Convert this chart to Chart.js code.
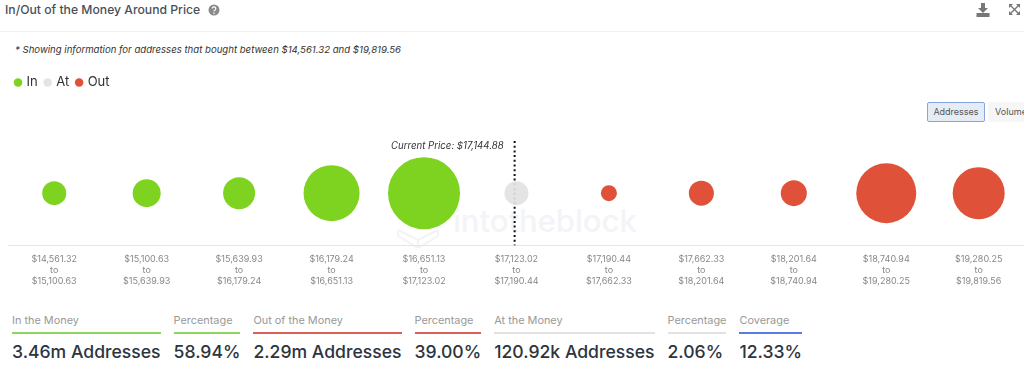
<!DOCTYPE html>
<html>
<head>
<meta charset="utf-8">
<script src="https://cdn.jsdelivr.net/npm/chart.js@4"></script>
<style>
  html, body { margin: 0; padding: 0; background: #fff; }
  body { width: 1024px; height: 365px; overflow: hidden; position: relative; font-family: Inter, sans-serif; }
  #title { position: absolute; left: 5px; top: 1px; font-size: 12.2px; line-height: 18px; font-weight: 500; color: #4a4f57; white-space: nowrap; }
  #divider { position: absolute; left: 0; right: 0; top: 31px; height: 1px; background: #f0f0f0; }
  #note { position: absolute; left: 15px; top: 43px; font-size: 9.6px; line-height: 14px; font-style: italic; color: #333; white-space: nowrap; }
  .icon { position: absolute; }
  .btn { position: absolute; top: 102px; height: 20px; box-sizing: border-box; font-size: 9px; line-height: 17px; color: #555; text-align: center; border-radius: 2px; overflow: hidden; }
  #btnAddr { left: 927px; width: 58px; background: #e6ecf6; border: 1.5px solid #85a4e2; }
  #btnVol { left: 988px; width: 46px; background: #f6f6f6; border: 1.5px solid #f6f6f6; }
  #mark { position: absolute; left: 453px; top: 202px; font-size: 31px; line-height: 38px; font-weight: 500; color: #f2f4f8; white-space: nowrap; }
  #chart { position: absolute; left: 0; top: 0; }
  #stats { position: absolute; left: 12px; top: 313px; display: flex; gap: 12px; }
  .stat { padding-right: 1px; }
  .stat .lab { font-size: 10.9px; line-height: 14px; color: #999; white-space: nowrap; }
  .stat .rule { height: 2px; margin-top: 5px; }
  .stat .val { font-size: 17.6px; line-height: 22px; margin-top: 7px; font-weight: 500; color: #2c3440; white-space: nowrap; }
</style>
</head>
<body>
<div id="title">In/Out of the Money Around Price</div>
<svg class="icon" style="left:208px;top:4px" width="12" height="12" viewBox="0 0 12 12">
  <circle cx="6" cy="6" r="5.5" fill="#8a8a8a"/>
  <path d="M4.2 4.6a1.8 1.8 0 1 1 2.6 1.6c-.6.3-.8.6-.8 1.2" fill="none" stroke="#fff" stroke-width="1.2"/>
  <circle cx="6" cy="9.2" r=".8" fill="#fff"/>
</svg>
<svg class="icon" style="left:976px;top:3px" width="14" height="14" viewBox="0 0 14 14">
  <path d="M5 0h4v5h3L7 10 2 5h3z" fill="#777"/><rect x="0.5" y="10" width="13" height="4" fill="#777"/>
</svg>
<svg class="icon" style="left:1009px;top:4px" width="11" height="11" viewBox="0 0 11 11">
  <path d="M0 0h4L0 4zM11 0v4L7 0zM0 11V7l4 4zM11 11H7l4-4z" fill="#777"/>
  <path d="M1 1l9 9M10 1l-9 9" stroke="#777" stroke-width="1.3"/>
</svg>
<div id="divider"></div>
<div id="note">* Showing information for addresses that bought between $14,561.32 and $19,819.56</div>
<div class="btn" id="btnAddr">Addresses</div>
<div class="btn" id="btnVol">Volume</div>
<div id="mark">intotheblock</div>
<svg class="icon" style="left:397px;top:222px" width="42" height="26" viewBox="0 0 42 26">
  <path d="M1 8L21 18L41 8M21 18V26M1 8V14L21 26L41 14V8" fill="none" stroke="#f1f3f7" stroke-width="2"/>
</svg>
<canvas id="chart" width="1024" height="300"></canvas>
<div id="stats"></div>

<script>
const rangeFrom = ['$14,561.32','$15,100.63','$15,639.93','$16,179.24','$16,651.13','$17,123.02','$17,190.44','$17,662.33','$18,201.64','$18,740.94','$19,280.25'];
const rangeTo = ['$15,100.63','$15,639.93','$16,179.24','$16,651.13','$17,123.02','$17,190.44','$17,662.33','$18,201.64','$18,740.94','$19,280.25','$19,819.56'];

// bubble sizes, one per price range
const inSizes = [12, 14, 16, 28, 36];
const atSizes = [12];
const outSizes = [8, 12.5, 13, 30, 26];

const currentPriceLabel = 'Current Price: $17,144.88';
const currentPriceSlot = 4.98;

const statLabels = ['In the Money','Percentage','Out of the Money','Percentage','At the Money','Percentage','Coverage'];
const statValues = ['3.46m Addresses','58.94%','2.29m Addresses','39.00%','120.92k Addresses','2.06%','12.33%'];
const statColors = ['#8fd65f','#8fd65f','#d9605a','#d9605a','#e2e2e2','#e2e2e2','#5b7be0'];

const GREEN = '#7ed321';
const GRAY = 'rgba(226,226,226,0.92)';
const RED = '#df5138';

// stats row under the chart
const stats = document.getElementById('stats');
statLabels.forEach(function(lab, i){
    const d = document.createElement('div');
    d.className = 'stat';
    d.innerHTML = '<div class="lab">' + lab + '</div><div class="rule" style="background:' + statColors[i] + '"></div><div class="val">' + statValues[i] + '</div>';
    stats.appendChild(d);
});

function points(sizes, start){
    return sizes.map(function(r, i){
        return {x: start + i, y: 1, r: r};
    });
}

/* extra room between legend and bubbles */
const legendGap = {
    id: 'legendGap',
    beforeInit(chart){
        const fit = chart.legend.fit;
        chart.legend.fit = function(){
            fit.bind(this)();
            this.height += 42;
        };
    }
};

/* dotted line for current price */
const priceLine = {
    id: 'priceLine',
    beforeDatasetsDraw(chart){
        const c = chart.ctx;
        const x = chart.scales.x.getPixelForValue(currentPriceSlot);
        const a = chart.chartArea;
        c.save();
        c.strokeStyle = '#111';
        c.lineWidth = 2;
        c.setLineDash([2, 2.7]);
        c.beginPath();
        c.moveTo(x, a.top);
        c.lineTo(x, a.bottom);
        c.stroke();
        c.setLineDash([]);
        c.fillStyle = '#333';
        c.font = 'italic 9.65px Inter';
        c.textAlign = 'right';
        c.textBaseline = 'middle';
        c.fillText(currentPriceLabel, x - 11, a.top + 5);
        c.restore();
    }
};

new Chart(document.getElementById('chart'), {
    type: 'bubble',
    plugins: [legendGap, priceLine],
    data: {
        datasets: [
            {label: 'In', data: points(inSizes, 0), backgroundColor: GREEN, borderWidth: 0},
            {label: 'At', data: points(atSizes, inSizes.length), backgroundColor: GRAY, borderWidth: 0},
            {label: 'Out', data: points(outSizes, inSizes.length + atSizes.length), backgroundColor: RED, borderWidth: 0}
        ]
    },
    options: {
        responsive: false,
        animation: false,
        layout: {
            autoPadding: false,
            padding: {left: 8, top: 68, right: 0, bottom: 13}
        },
        plugins: {
            tooltip: {enabled: false},
            legend: {
                position: 'top',
                align: 'start',
                labels: {
                    usePointStyle: true,
                    boxWidth: 4,
                    boxHeight: 6,
                    padding: 8,
                    color: '#333',
                    font: {family: 'Inter', size: 13}
                }
            }
        },
        scales: {
            x: {
                type: 'linear',
                min: -0.5,
                max: 10.49,
                afterBuildTicks(scale){
                    scale.ticks = rangeFrom.map(function(_, i){ return {value: i}; });
                },
                afterFit(scale){
                    // labels sit inside the range, no need for side padding
                    scale.paddingLeft = 0;
                    scale.paddingRight = 0;
                },
                grid: {display: false},
                border: {display: true, color: '#e3e3f2', width: 1},
                ticks: {
                    autoSkip: false,
                    maxRotation: 0,
                    padding: 0,
                    color: '#888',
                    font: {family: 'Inter', size: 9, lineHeight: 1.25},
                    callback: function(v){
                        return [rangeFrom[v], 'to', rangeTo[v]];
                    }
                }
            },
            y: {
                display: false,
                min: 0,
                max: 2
            }
        }
    }
});
</script>
</body>
</html>
